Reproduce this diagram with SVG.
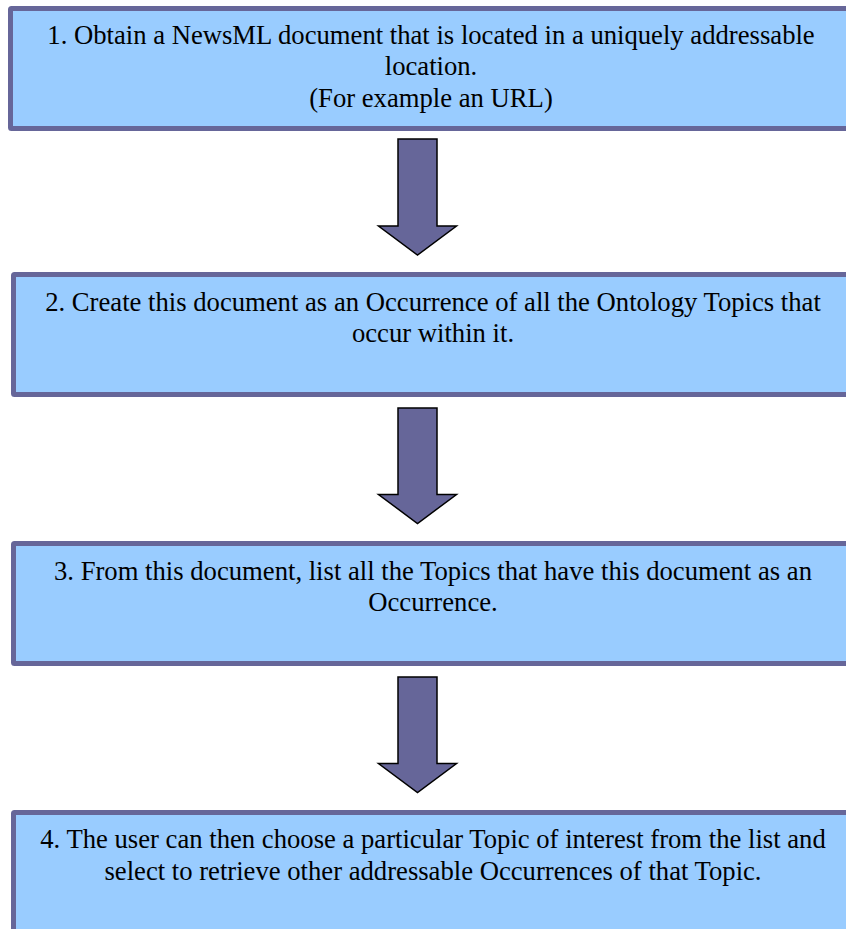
<svg xmlns="http://www.w3.org/2000/svg" width="846" height="929" viewBox="0 0 846 929">
<style>
.box{fill:#99CCFF;stroke:#666699;stroke-width:5}
.t{font-family:"Liberation Serif","Times New Roman",serif;font-size:26.67px;fill:#000;text-anchor:middle}
.arr{fill:#666699;stroke:#000;stroke-width:1.5;stroke-linejoin:miter}
</style>
<rect width="846" height="929" fill="#fff"/>
<g id="node1">
<rect class="box" x="10.5" y="8.5" width="843" height="120" rx="1"/>
<text class="t" x="431" y="43.5">1. Obtain a NewsML document that is located in a uniquely addressable</text>
<text class="t" x="431" y="75">location.</text>
<text class="t" x="431" y="106.5">(For example an URL)</text>
</g>
<g id="node2">
<rect class="box" x="13.5" y="274.5" width="843" height="120" rx="1"/>
<text class="t" x="433" y="310.5">2. Create this document as an Occurrence of all the Ontology Topics that</text>
<text class="t" x="433" y="342">occur within it.</text>
</g>
<g id="node3">
<rect class="box" x="13.5" y="543.5" width="843" height="120" rx="1"/>
<text class="t" x="433" y="579.5">3. From this document, list all the Topics that have this document as an</text>
<text class="t" x="433" y="611">Occurrence.</text>
</g>
<g id="node4">
<rect class="box" x="13.5" y="812.5" width="843" height="130" rx="1"/>
<text class="t" x="433" y="848">4. The user can then choose a particular Topic of interest from the list and</text>
<text class="t" x="433" y="880">select to retrieve other addressable Occurrences of that Topic.</text>
</g>
<g id="connectors">
<polygon class="arr" points="398,139 437,139 437,226 456.5,226 417.5,255 378.5,226 398,226"/>
<polygon class="arr" points="398,408 437,408 437,494.5 456.5,494.5 417.5,523.5 378.5,494.5 398,494.5"/>
<polygon class="arr" points="398,677 437,677 437,763.5 456.5,763.5 417.5,792.5 378.5,763.5 398,763.5"/>
</g>
</svg>
